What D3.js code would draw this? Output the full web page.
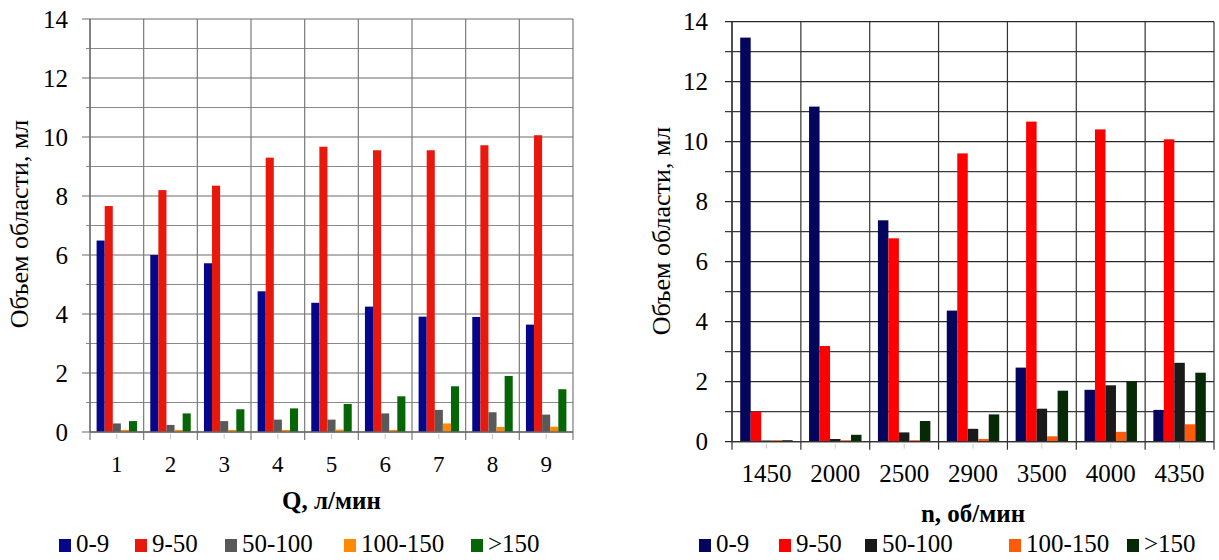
<!DOCTYPE html>
<html>
<head>
<meta charset="utf-8">
<script src="https://cdn.jsdelivr.net/npm/d3@7"></script>
</head>
<body style="margin:0">
<svg id="chart" width="1219" height="560" font-family="Liberation Serif"></svg>
<script>
// ---------- data ----------
const seriesNames = ["0-9", "9-50", "50-100", "100-150", ">150"];
const yTickValues = [0, 2, 4, 6, 8, 10, 12, 14];

// Left chart: Q, л/мин
const qCategories = ["1", "2", "3", "4", "5", "6", "7", "8", "9"];
const q_0_9     = [6.49, 6.00, 5.72, 4.77, 4.38, 4.25, 3.91, 3.90, 3.64];
const q_9_50    = [7.66, 8.20, 8.35, 9.30, 9.67, 9.55, 9.55, 9.72, 10.06];
const q_50_100  = [0.29, 0.24, 0.37, 0.42, 0.42, 0.63, 0.75, 0.67, 0.59];
const q_100_150 = [0.07, 0.07, 0.07, 0.07, 0.08, 0.07, 0.29, 0.17, 0.18];
const q_gt150   = [0.37, 0.63, 0.77, 0.80, 0.95, 1.21, 1.55, 1.90, 1.45];

// Right chart: n, об/мин
const nCategories = ["1450", "2000", "2500", "2900", "3500", "4000", "4350"];
const n_0_9     = [13.47, 11.17, 7.38, 4.37, 2.47, 1.73, 1.06];
const n_9_50    = [1.00, 3.19, 6.78, 9.61, 10.67, 10.41, 10.08];
const n_50_100  = [0.04, 0.09, 0.31, 0.43, 1.10, 1.88, 2.63];
const n_100_150 = [0.05, 0.05, 0.05, 0.09, 0.18, 0.33, 0.58];
const n_gt150   = [0.05, 0.23, 0.69, 0.91, 1.70, 2.02, 2.30];

const yTitle = "Объем области, мл";

// ---------- drawing ----------
const svg = d3.select("#chart");
svg.append("rect").attr("width", 1219).attr("height", 560).attr("fill", "#fff");

function drawChart(cfg) {
  const g = svg.append("g");
  const x0 = d3.scaleBand().domain(cfg.categories).range([cfg.left, cfg.right]).padding(0);
  const x1 = d3.scaleBand().domain(seriesNames)
      .range([cfg.groupPad, x0.bandwidth() - cfg.groupPad]).padding(0);
  const y = d3.scaleLinear().domain([0, 14]).range([cfg.bottom, cfg.top]);

  const minorVals = d3.range(1, 14, 2);
  g.append("g").selectAll("line").data(minorVals).join("line")
    .attr("x1", cfg.left - cfg.minorTick).attr("x2", cfg.right)
    .attr("y1", d => y(d)).attr("y2", d => y(d))
    .attr("stroke", cfg.minorGrid).attr("stroke-width", 1.2);
  g.append("g").selectAll("line").data(yTickValues).join("line")
    .attr("x1", cfg.left - cfg.majorTick).attr("x2", cfg.right)
    .attr("y1", d => y(d)).attr("y2", d => y(d))
    .attr("stroke", cfg.majorGrid).attr("stroke-width", 1.2);

  const bounds = cfg.categories.map(c => x0(c)).concat([cfg.right]);
  g.append("g").selectAll("line").data(bounds).join("line")
    .attr("x1", d => d).attr("x2", d => d)
    .attr("y1", cfg.top).attr("y2", cfg.bottom + 8)
    .attr("stroke", cfg.vGrid).attr("stroke-width", 1.2);

  g.append("g").selectAll("line").data(cfg.categories).join("line")
    .attr("x1", d => x0(d) + x0.bandwidth() / 2).attr("x2", d => x0(d) + x0.bandwidth() / 2)
    .attr("y1", cfg.bottom + 2).attr("y2", cfg.bottom + 7)
    .attr("stroke", "#c8c8c8").attr("stroke-width", 1);

  const groups = g.append("g").selectAll("g").data(cfg.categories).join("g")
    .attr("transform", d => `translate(${x0(d)},0)`);
  groups.selectAll("rect")
    .data((d, i) => seriesNames.map((s, k) => ({ s, v: cfg.series[k][i], k })))
    .join("rect")
    .attr("x", d => x1(d.s))
    .attr("width", x1.bandwidth())
    .attr("y", d => y(d.v))
    .attr("height", d => cfg.bottom - y(d.v))
    .attr("fill", d => cfg.colors[d.k]);

  g.append("line").attr("x1", cfg.left).attr("x2", cfg.left)
    .attr("y1", cfg.top).attr("y2", cfg.bottom)
    .attr("stroke", cfg.axisColor).attr("stroke-width", 1.3);
  g.append("line").attr("x1", cfg.left).attr("x2", cfg.right)
    .attr("y1", cfg.bottom).attr("y2", cfg.bottom)
    .attr("stroke", cfg.axisColor).attr("stroke-width", 1.3);

  g.append("g").selectAll("text").data(yTickValues).join("text")
    .attr("font-family", "Liberation Serif")
    .attr("x", cfg.yLabelX).attr("y", d => y(d))
    .attr("dy", "0.34em")
    .attr("text-anchor", "end")
    .attr("font-size", 25)
    .text(d => d);

  g.append("g").selectAll("text").data(cfg.categories).join("text")
    .attr("font-family", "Liberation Serif")
    .attr("x", d => x0(d) + x0.bandwidth() / 2)
    .attr("y", cfg.xLabelY)
    .attr("text-anchor", "middle")
    .attr("font-size", cfg.xLabelSize)
    .text(d => d);

  g.append("text")
    .attr("font-family", "Liberation Serif")
    .attr("x", (cfg.left + cfg.right) / 2).attr("y", cfg.xTitleY)
    .attr("text-anchor", "middle")
    .attr("font-size", 25).attr("font-weight", "bold")
    .text(cfg.xTitle);

  g.append("text")
    .attr("font-family", "Liberation Serif")
    .attr("transform", `translate(${cfg.yTitleX},${cfg.yTitleY}) rotate(-90)`)
    .attr("text-anchor", "middle")
    .attr("font-size", 26)
    .text(yTitle);

  const leg = g.append("g").selectAll("g").data(seriesNames).join("g")
    .attr("transform", (d, i) => `translate(${cfg.legendX[i]},${cfg.legendY})`);
  leg.append("rect").attr("x", 0).attr("y", -13).attr("width", 12).attr("height", 13)
    .attr("fill", (d, i) => cfg.colors[i]);
  leg.append("text")
    .attr("font-family", "Liberation Serif")
    .attr("x", 17).attr("y", 0)
    .attr("font-size", 25)
    .text(d => d);
}

drawChart({
  categories: qCategories,
  series: [q_0_9, q_9_50, q_50_100, q_100_150, q_gt150],
  colors: ["#06068a", "#e8180c", "#595959", "#ff8a00", "#066606"],
  left: 90, right: 573, top: 19, bottom: 432,
  groupPad: 6.6,
  minorGrid: "#8a8a8a", majorGrid: "#6a6a6a", vGrid: "#7a7a7a", axisColor: "#6a6a6a",
  majorTick: 8, minorTick: 4,
  yLabelX: 68, xLabelY: 472, xLabelSize: 23,
  xTitle: "Q, л/мин", xTitleY: 509,
  yTitleX: 28, yTitleY: 224,
  legendX: [59, 135, 225, 344, 471], legendY: 552
});

drawChart({
  categories: nCategories,
  series: [n_0_9, n_9_50, n_50_100, n_100_150, n_gt150],
  colors: ["#05055e", "#ff0000", "#1a1a1a", "#ff5a0a", "#062a06"],
  left: 732, right: 1214, top: 21.7, bottom: 441.7,
  groupPad: 8.2,
  minorGrid: "#3a3a3a", majorGrid: "#2a2a2a", vGrid: "#333", axisColor: "#333",
  majorTick: 7, minorTick: 7,
  yLabelX: 708, xLabelY: 482, xLabelSize: 25,
  xTitle: "n, об/мин", xTitleY: 522,
  yTitleX: 670, yTitleY: 231,
  legendX: [699, 779, 865, 1009, 1127], legendY: 552
});
</script>
</body>
</html>
